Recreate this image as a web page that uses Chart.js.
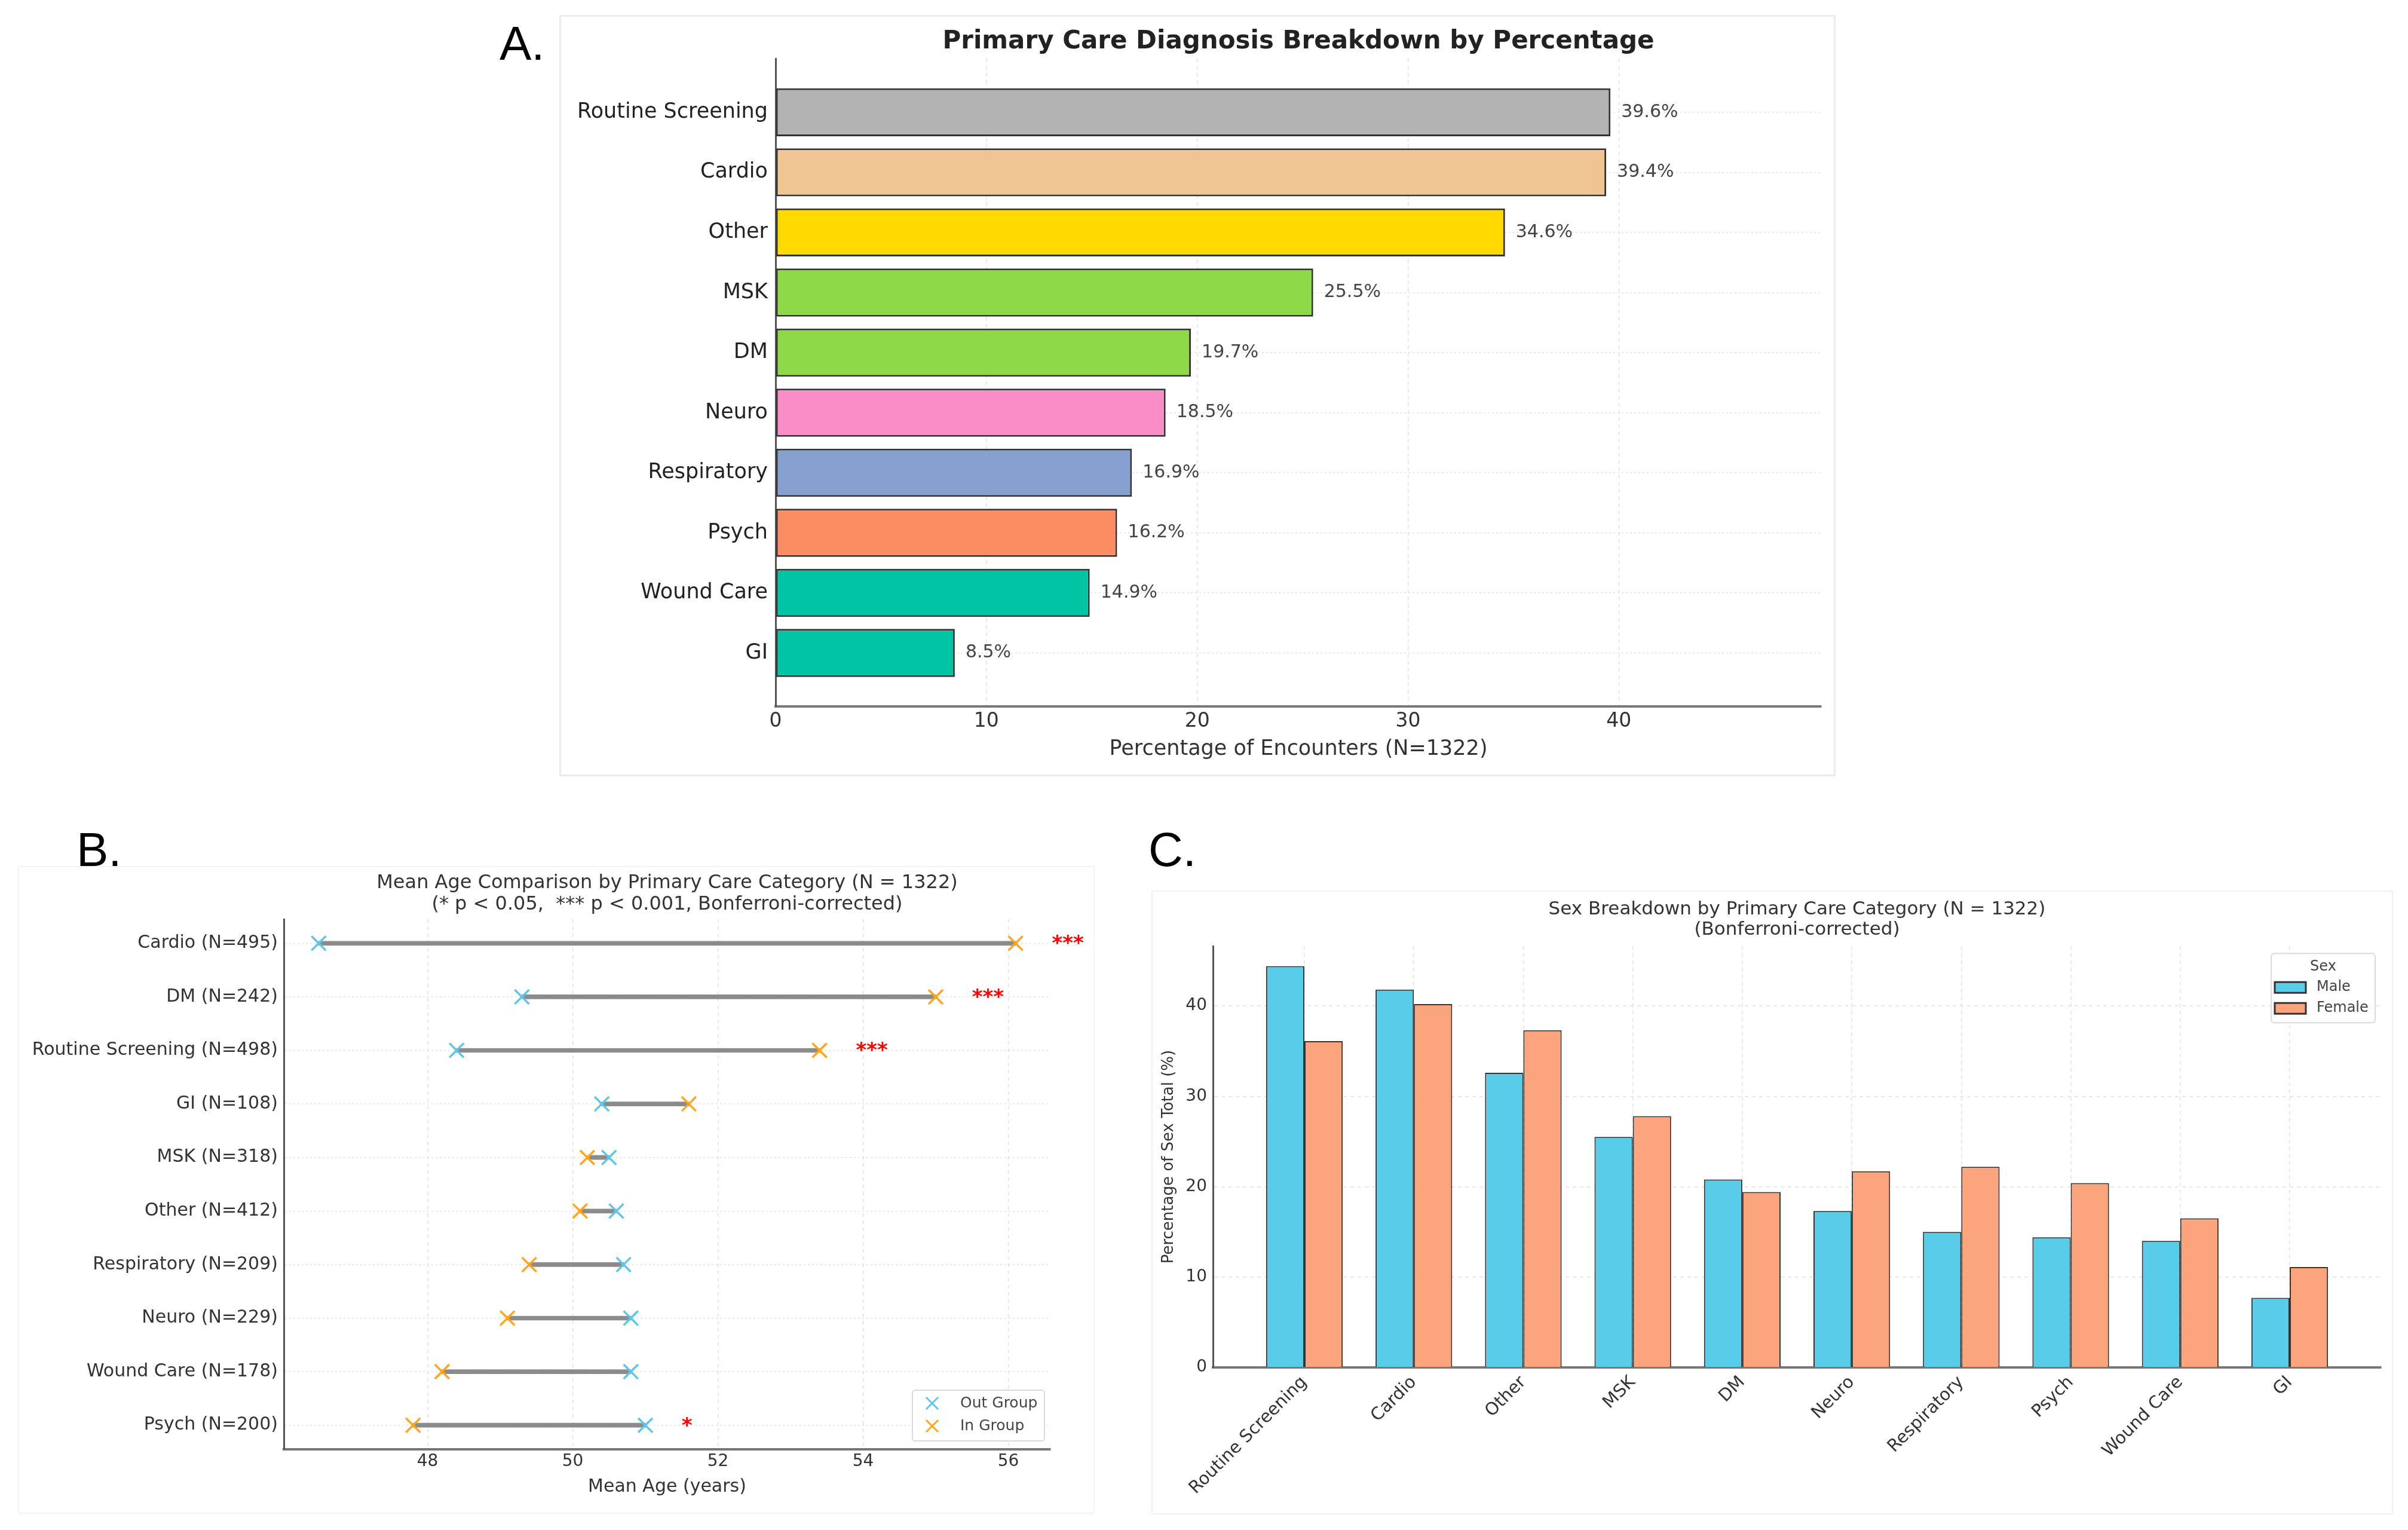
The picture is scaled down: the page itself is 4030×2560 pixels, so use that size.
<!DOCTYPE html>
<html>
<head>
<meta charset="utf-8">
<title>Primary care figure</title>
<script src="https://cdn.jsdelivr.net/npm/chart.js@4.4.1/dist/chart.umd.min.js"></script>
<style>
  html, body { margin: 0; padding: 0; background: #fff; }
  body { width: 4030px; height: 2560px; position: relative; overflow: hidden; }
  .frame { position: absolute; box-sizing: border-box; }
  .box { position: absolute; }
  .tag { position: absolute; z-index: 5; font-family: 'Liberation Sans', Arial, sans-serif; font-size: 80px; line-height: 80px; color: #000; }
</style>
</head>
<body>
<div class="frame" style="left:936px;top:25px;width:2136px;height:1274px;border:3px solid #ececec"></div>
<div class="frame" style="left:30px;top:1449px;width:1802px;height:1084px;border:2px solid #f3f3f3"></div>
<div class="frame" style="left:1927px;top:1490px;width:2078px;height:1044px;border:2px solid #f0f0f0"></div>

<div class="box" style="left:938px;top:26px;width:2133px;height:1272px"><canvas id="diagChart"></canvas></div>
<div class="box" style="left:31px;top:1450px;width:1800px;height:1082px"><canvas id="ageChart"></canvas></div>
<div class="box" style="left:1928px;top:1490px;width:2076px;height:1042px"><canvas id="sexChart"></canvas></div>

<div class="tag" style="left:836px;top:33px">A.</div>
<div class="tag" style="left:128px;top:1382px">B.</div>
<div class="tag" style="left:1922px;top:1382px">C.</div>

<script>
// A. diagnosis share
const diagCats = ['Routine Screening', 'Cardio', 'Other', 'MSK', 'DM', 'Neuro', 'Respiratory', 'Psych', 'Wound Care', 'GI'];
const diagPct = [39.6, 39.4, 34.6, 25.5, 19.7, 18.5, 16.9, 16.2, 14.9, 8.5];
const diagColors = ['#b3b3b3', '#f0c594', '#ffd800', '#8ed948', '#8ed948', '#fa8cc8', '#86a1cf', '#fc8d62', '#00c4a3', '#00c4a3'];
const pctTicks = [0, 10, 20, 30, 40];

// B. mean age, in group vs out group
const ageCats = ['Cardio (N=495)', 'DM (N=242)', 'Routine Screening (N=498)', 'GI (N=108)', 'MSK (N=318)',
  'Other (N=412)', 'Respiratory (N=209)', 'Neuro (N=229)', 'Wound Care (N=178)', 'Psych (N=200)'];
const outAge = [46.5, 49.3, 48.4, 50.4, 50.5, 50.6, 50.7, 50.8, 50.8, 51.0];
const inAge = [56.1, 55.0, 53.4, 51.6, 50.2, 50.1, 49.4, 49.1, 48.2, 47.8];
const ageSig = ['***', '***', '***', '', '', '', '', '', '', '*'];
const ageTicks = [48, 50, 52, 54, 56];

// C. sex breakdown
const sexCats = ['Routine Screening', 'Cardio', 'Other', 'MSK', 'DM', 'Neuro', 'Respiratory', 'Psych', 'Wound Care', 'GI'];
const malePct = [44.4, 41.8, 32.6, 25.5, 20.8, 17.3, 15.0, 14.4, 14.0, 7.7];
const femalePct = [36.1, 40.2, 37.3, 27.8, 19.4, 21.7, 22.2, 20.4, 16.5, 11.1];
const sexTicks = [0, 10, 20, 30, 40];

Chart.defaults.font.family = "'DejaVu Sans', sans-serif";
Chart.defaults.color = '#333';
Chart.defaults.animation = false;
Chart.defaults.maintainAspectRatio = false;
Chart.defaults.plugins.legend.display = false;
Chart.defaults.plugins.tooltip.enabled = false;

const ticksAt = vals => axis => { axis.ticks = vals.map(v => ({ value: v })); };
const fixWidth = w => axis => { axis.width = w; };
const fixHeight = h => axis => { axis.height = h; };
const idx = arr => arr.map((_, i) => i);

// percentage text at the end of each bar
const barValueLabels = {
  id: 'barValueLabels',
  afterDatasetsDraw(chart) {
    const ctx = chart.ctx;
    ctx.save();
    ctx.font = "30px 'DejaVu Sans'";
    ctx.fillStyle = '#444';
    ctx.textAlign = 'left';
    ctx.textBaseline = 'middle';
    chart.getDatasetMeta(0).data.forEach((bar, i) => {
      ctx.fillText(diagPct[i].toFixed(1) + '%', bar.x + 18, bar.y);
    });
    ctx.restore();
  }
};

// significance stars beside each dumbbell
const sigStars = {
  id: 'sigStars',
  afterDatasetsDraw(chart) {
    const { ctx, scales } = chart;
    ctx.save();
    ctx.font = "bold 34px 'DejaVu Sans'";
    ctx.fillStyle = '#ff0000';
    ctx.textAlign = 'left';
    ctx.textBaseline = 'middle';
    ageSig.forEach((s, i) => {
      if (!s) return;
      const x = scales.x.getPixelForValue(Math.max(outAge[i], inAge[i]) + 0.5);
      ctx.fillText(s, x, scales.y.getPixelForValue(i) + 2);
    });
    ctx.restore();
  }
};

// legend box drawn inside the plot area
const insideLegend = {
  id: 'insideLegend',
  afterDraw(chart, args, o) {
    if (!o.display) return;
    const { ctx, chartArea: a } = chart;
    const sets = chart.data.datasets.filter(d => d.label);
    const x = a.right - o.right - o.width;
    const y = o.top != null ? a.top + o.top : a.bottom - o.bottom - o.height;
    ctx.save();
    ctx.fillStyle = 'rgba(255,255,255,0.85)';
    ctx.strokeStyle = '#dadada';
    ctx.lineWidth = 2;
    ctx.beginPath();
    ctx.roundRect(x, y, o.width, o.height, 5);
    ctx.fill();
    ctx.stroke();
    ctx.font = o.fontSize + "px 'DejaVu Sans'";
    ctx.textBaseline = 'middle';
    if (o.title) {
      ctx.fillStyle = '#444';
      ctx.textAlign = 'center';
      ctx.fillText(o.title, x + o.width / 2, y + o.titleY);
    }
    ctx.textAlign = 'left';
    sets.forEach((d, i) => {
      const cy = y + o.rows[i];
      const mx = x + o.markX;
      if (o.marker === 'cross') {
        ctx.strokeStyle = d.pointBorderColor;
        ctx.lineWidth = 3;
        ctx.beginPath();
        ctx.moveTo(mx - 10, cy - 10); ctx.lineTo(mx + 10, cy + 10);
        ctx.moveTo(mx + 10, cy - 10); ctx.lineTo(mx - 10, cy + 10);
        ctx.stroke();
      } else {
        ctx.fillStyle = d.backgroundColor;
        ctx.strokeStyle = '#333';
        ctx.lineWidth = 3;
        ctx.fillRect(mx - 26, cy - 9, 52, 18);
        ctx.strokeRect(mx - 26, cy - 9, 52, 18);
      }
      ctx.fillStyle = '#444';
      ctx.fillText(d.label, x + o.textX, cy);
    });
    ctx.restore();
  }
};

const dashGrid = { color: '#e1e1e1', lineWidth: 1.5, drawTicks: false, offset: false };

// ---------- A ----------
new Chart(document.getElementById('diagChart'), {
  type: 'bar',
  data: {
    datasets: [{
      data: diagPct.map((v, i) => ({ x: v, y: i })),
      backgroundColor: diagColors,
      borderColor: '#333',
      borderWidth: 3,
      borderSkipped: false,
      categoryPercentage: 1,
      barPercentage: 0.8
    }]
  },
  options: {
    indexAxis: 'y',
    layout: { padding: { left: 0, right: 23, top: 0, bottom: 0 } },
    plugins: {
      title: {
        display: true,
        fullSize: false,
        text: 'Primary Care Diagnosis Breakdown by Percentage',
        font: { size: 42, weight: 'bold' },
        color: '#222',
        padding: { top: 19, bottom: 3 }
      }
    },
    scales: {
      x: {
        type: 'linear', min: 0, max: 49.6,
        afterBuildTicks: ticksAt(pctTicks),
        afterFit: fixHeight(116),
        grid: dashGrid,
        border: { display: true, color: '#777', width: 4, dash: [6, 6] },
        ticks: { font: { size: 33 }, color: '#333', padding: 6 },
        title: { display: true, text: 'Percentage of Encounters (N=1322)', font: { size: 35 }, color: '#333', padding: { top: 0, bottom: 23 } }
      },
      y: {
        type: 'linear', reverse: true, offset: false, min: -0.89, max: 9.89,
        afterBuildTicks: ticksAt(idx(diagCats)),
        afterFit: fixWidth(360),
        grid: dashGrid,
        border: { display: true, color: '#555', width: 3, dash: [3, 4] },
        ticks: { callback: v => diagCats[v], font: { size: 35 }, color: '#222', padding: 13 }
      }
    }
  },
  plugins: [barValueLabels]
});

// ---------- B ----------
new Chart(document.getElementById('ageChart'), {
  type: 'scatter',
  data: {
    datasets: [
      {
        type: 'bar',
        indexAxis: 'y',
        data: outAge.map((v, i) => ({ y: i, x: [v, inAge[i]] })),
        backgroundColor: 'rgba(128,128,128,0.9)',
        barThickness: 7,
        order: 3
      },
      {
        label: 'Out Group',
        data: outAge.map((v, i) => ({ x: v, y: i })),
        pointStyle: 'crossRot', pointRadius: 17, pointBorderWidth: 3.5,
        pointBorderColor: '#5ec6ea', pointBackgroundColor: '#5ec6ea',
        order: 2
      },
      {
        label: 'In Group',
        data: inAge.map((v, i) => ({ x: v, y: i })),
        pointStyle: 'crossRot', pointRadius: 17, pointBorderWidth: 3.5,
        pointBorderColor: '#ffa61a', pointBackgroundColor: '#ffa61a',
        order: 1
      }
    ]
  },
  options: {
    layout: { padding: { left: 0, right: 73, top: 0, bottom: 0 } },
    plugins: {
      title: {
        display: true,
        fullSize: false,
        text: ['Mean Age Comparison by Primary Care Category (N = 1322)', '(* p < 0.05,  *** p < 0.001, Bonferroni-corrected)'],
        font: { size: 32, weight: 'normal', lineHeight: 1.125 },
        color: '#333',
        padding: { top: 10, bottom: 6 }
      },
      insideLegend: { display: true, marker: 'cross', width: 221, height: 85, right: 10, bottom: 14, rows: [22, 60], markX: 33, textX: 80, fontSize: 25 }
    },
    scales: {
      x: {
        type: 'linear', offset: false, min: 46.02, max: 56.58,
        afterBuildTicks: ticksAt(ageTicks),
        afterFit: fixHeight(107),
        grid: dashGrid,
        border: { display: true, color: '#777', width: 4, dash: [6, 6] },
        ticks: { font: { size: 28 }, color: '#333', padding: 4 },
        title: { display: true, text: 'Mean Age (years)', font: { size: 30 }, color: '#333', padding: { top: 0, bottom: 26 } }
      },
      y: {
        type: 'linear', reverse: true, offset: false, min: -0.45, max: 9.45,
        afterBuildTicks: ticksAt(idx(ageCats)),
        afterFit: fixWidth(444),
        grid: dashGrid,
        border: { display: true, color: '#555', width: 3, dash: [3, 4] },
        ticks: { callback: v => ageCats[v], font: { size: 30 }, color: '#333', padding: 10 }
      }
    }
  },
  plugins: [sigStars, insideLegend]
});

// ---------- C ----------
new Chart(document.getElementById('sexChart'), {
  type: 'bar',
  data: {
    datasets: [
      {
        label: 'Male',
        data: malePct.map((v, i) => ({ x: i, y: v })),
        backgroundColor: '#57cdea', borderColor: '#333', borderWidth: 2, borderSkipped: 'bottom',
        categoryPercentage: 0.7, barPercentage: 1
      },
      {
        label: 'Female',
        data: femalePct.map((v, i) => ({ x: i, y: v })),
        backgroundColor: '#fca47c', borderColor: '#333', borderWidth: 2, borderSkipped: 'bottom',
        categoryPercentage: 0.7, barPercentage: 1
      }
    ]
  },
  options: {
    layout: { padding: { left: 0, right: 19, top: 0, bottom: 0 } },
    plugins: {
      title: {
        display: true,
        fullSize: false,
        text: ['Sex Breakdown by Primary Care Category (N = 1322)', '(Bonferroni-corrected)'],
        font: { size: 31, weight: 'normal', lineHeight: 1.1 },
        color: '#333',
        padding: { top: 15, bottom: 10 }
      },
      insideLegend: { display: true, marker: 'box', title: 'Sex', titleY: 23, width: 174, height: 116, right: 10, top: 12, rows: [57, 92], markX: 32, textX: 76, fontSize: 24 }
    },
    scales: {
      x: {
        type: 'linear', offset: false, min: -0.835, max: 9.835,
        afterBuildTicks: ticksAt(idx(sexCats)),
        afterFit: fixHeight(244),
        grid: dashGrid,
        border: { display: true, color: '#777', width: 4, dash: [6, 6] },
        ticks: { callback: v => sexCats[v], font: { size: 29 }, color: '#333', padding: 8, autoSkip: false, minRotation: 45, maxRotation: 45 }
      },
      y: {
        type: 'linear', min: 0, max: 46.6,
        afterBuildTicks: ticksAt(sexTicks),
        afterFit: fixWidth(102),
        grid: dashGrid,
        border: { display: true, color: '#555', width: 3, dash: [6, 6] },
        ticks: { font: { size: 28 }, color: '#333', padding: 10 },
        title: { display: true, text: 'Percentage of Sex Total (%)', font: { size: 26 }, color: '#333', padding: { top: 13, bottom: 0 } }
      }
    }
  },
  plugins: [insideLegend]
});
</script>
</body>
</html>
